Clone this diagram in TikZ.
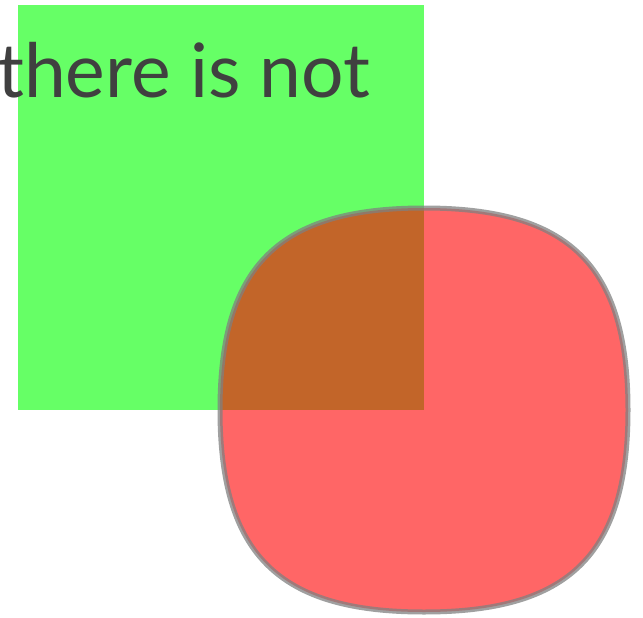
\documentclass[tikz,border=0pt]{standalone}
\usepackage{fontspec}
\setmainfont{Lato}
\definecolor{txtgray}{RGB}{64,64,64}
\begin{document}
\begin{tikzpicture}[x=1pt,y=-1pt,
  greenbox/.style={fill=green,fill opacity=0.6,draw=none},
  redblob/.style={fill=red,fill opacity=0.6,draw=gray,draw opacity=0.75,line width=5pt},
  bigtext/.style={inner sep=0pt,text=txtgray,font=\fontsize{75}{82}\selectfont}]
\useasboundingbox (0,0) rectangle (643,618);
\fill[greenbox] (18,5) rectangle (424,410);
\node[bigtext,anchor=base west] (label) at (-3,98) {there is not};
\path[redblob] (628,410) .. controls (628,265) and (569,208) .. (424,208)
  .. controls (279,208) and (220,265) .. (220,410)
  .. controls (220,555) and (279,612) .. (424,612)
  .. controls (569,612) and (628,555) .. (628,410) -- cycle;
\end{tikzpicture}
\end{document}
